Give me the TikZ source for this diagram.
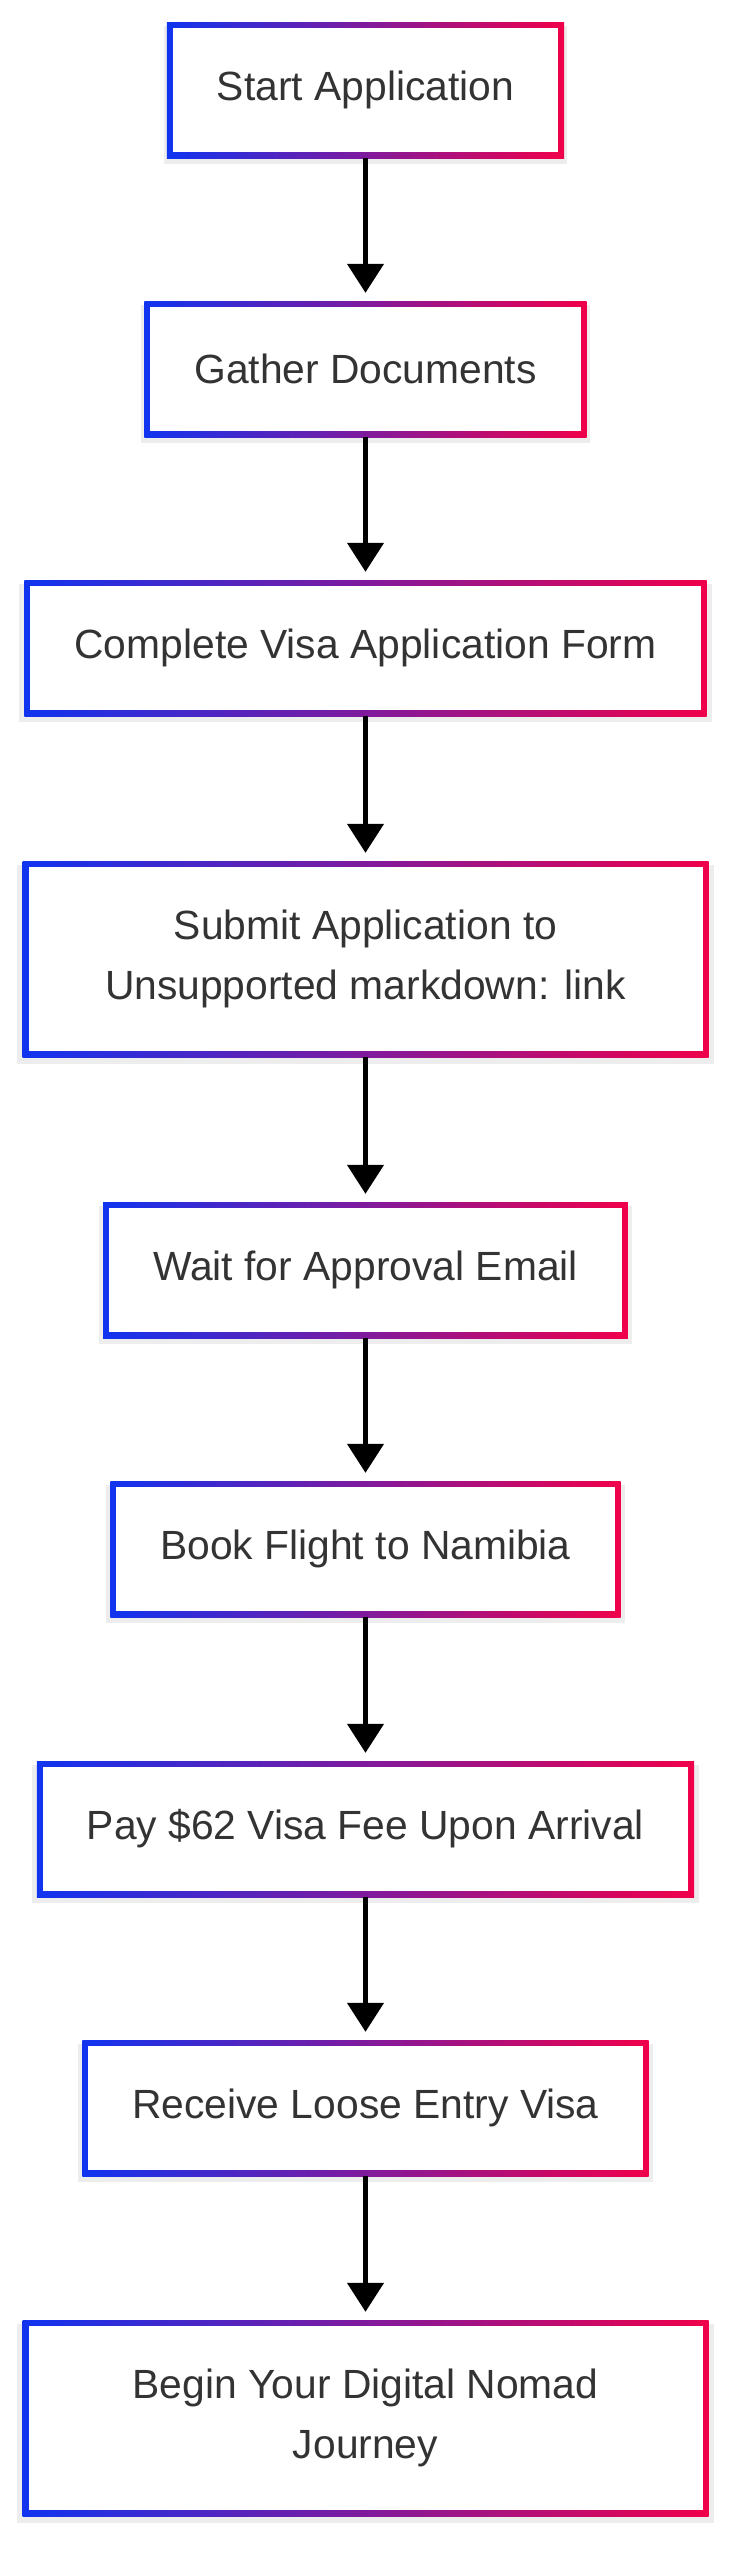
\documentclass[tikz,border=0pt]{standalone}
\usepackage{fontspec}
\setmainfont{Liberation Sans}
\usetikzlibrary{arrows.meta,shadows}
\definecolor{gblue}{RGB}{16,52,240}
\definecolor{gred}{RGB}{240,0,74}
\definecolor{txt}{RGB}{51,51,51}
\tikzset{
  flowbox/.style={rectangle, minimum height=136pt, inner xsep=50pt, inner ysep=0pt,
    left color=gblue, right color=gred, draw=none, align=center, text=txt,
    font=\fontsize{40.8pt}{60pt}\selectfont,
    general shadow={shadow xshift=0pt, shadow yshift=-5pt, shadow scale=1.015, opacity=0.07, fill=black},
    path picture={\fill[white] ([shift={(6pt,6pt)}]path picture bounding box.south west) rectangle ([shift={(-6pt,-6pt)}]path picture bounding box.north east);}},
  twoline/.style={minimum height=196pt, minimum width=686pt},
  flowarrow/.style={-{Triangle[length=29pt,width=36pt]}, line width=4.5pt, black, shorten >=8pt}
}
\begin{document}
\begin{tikzpicture}[x=1pt,y=-1pt]
\useasboundingbox (0,0) rectangle (736,2560);
\node[flowbox] (n1) at (365.5,90) {Start Application};
\node[flowbox] (n2) at (365.5,369) {Gather Documents};
\node[flowbox] (n3) at (365.5,648) {Complete Visa Application Form};
\node[flowbox,twoline] (n4) at (365.5,959) {Submit Application to\\Unsupported markdown: link};
\node[flowbox] (n5) at (365.5,1270) {Wait for Approval Email};
\node[flowbox] (n6) at (365.5,1549) {Book Flight to Namibia};
\node[flowbox] (n7) at (365.5,1829) {Pay \$62 Visa Fee Upon Arrival};
\node[flowbox] (n8) at (365.5,2108) {Receive Loose Entry Visa};
\node[flowbox,twoline] (n9) at (365.5,2418) {Begin Your Digital Nomad\\Journey};
\foreach \a/\b in {n1/n2,n2/n3,n3/n4,n4/n5,n5/n6,n6/n7,n7/n8,n8/n9}
  \draw[flowarrow] (\a.south) -- (\b.north);
\end{tikzpicture}
\end{document}
